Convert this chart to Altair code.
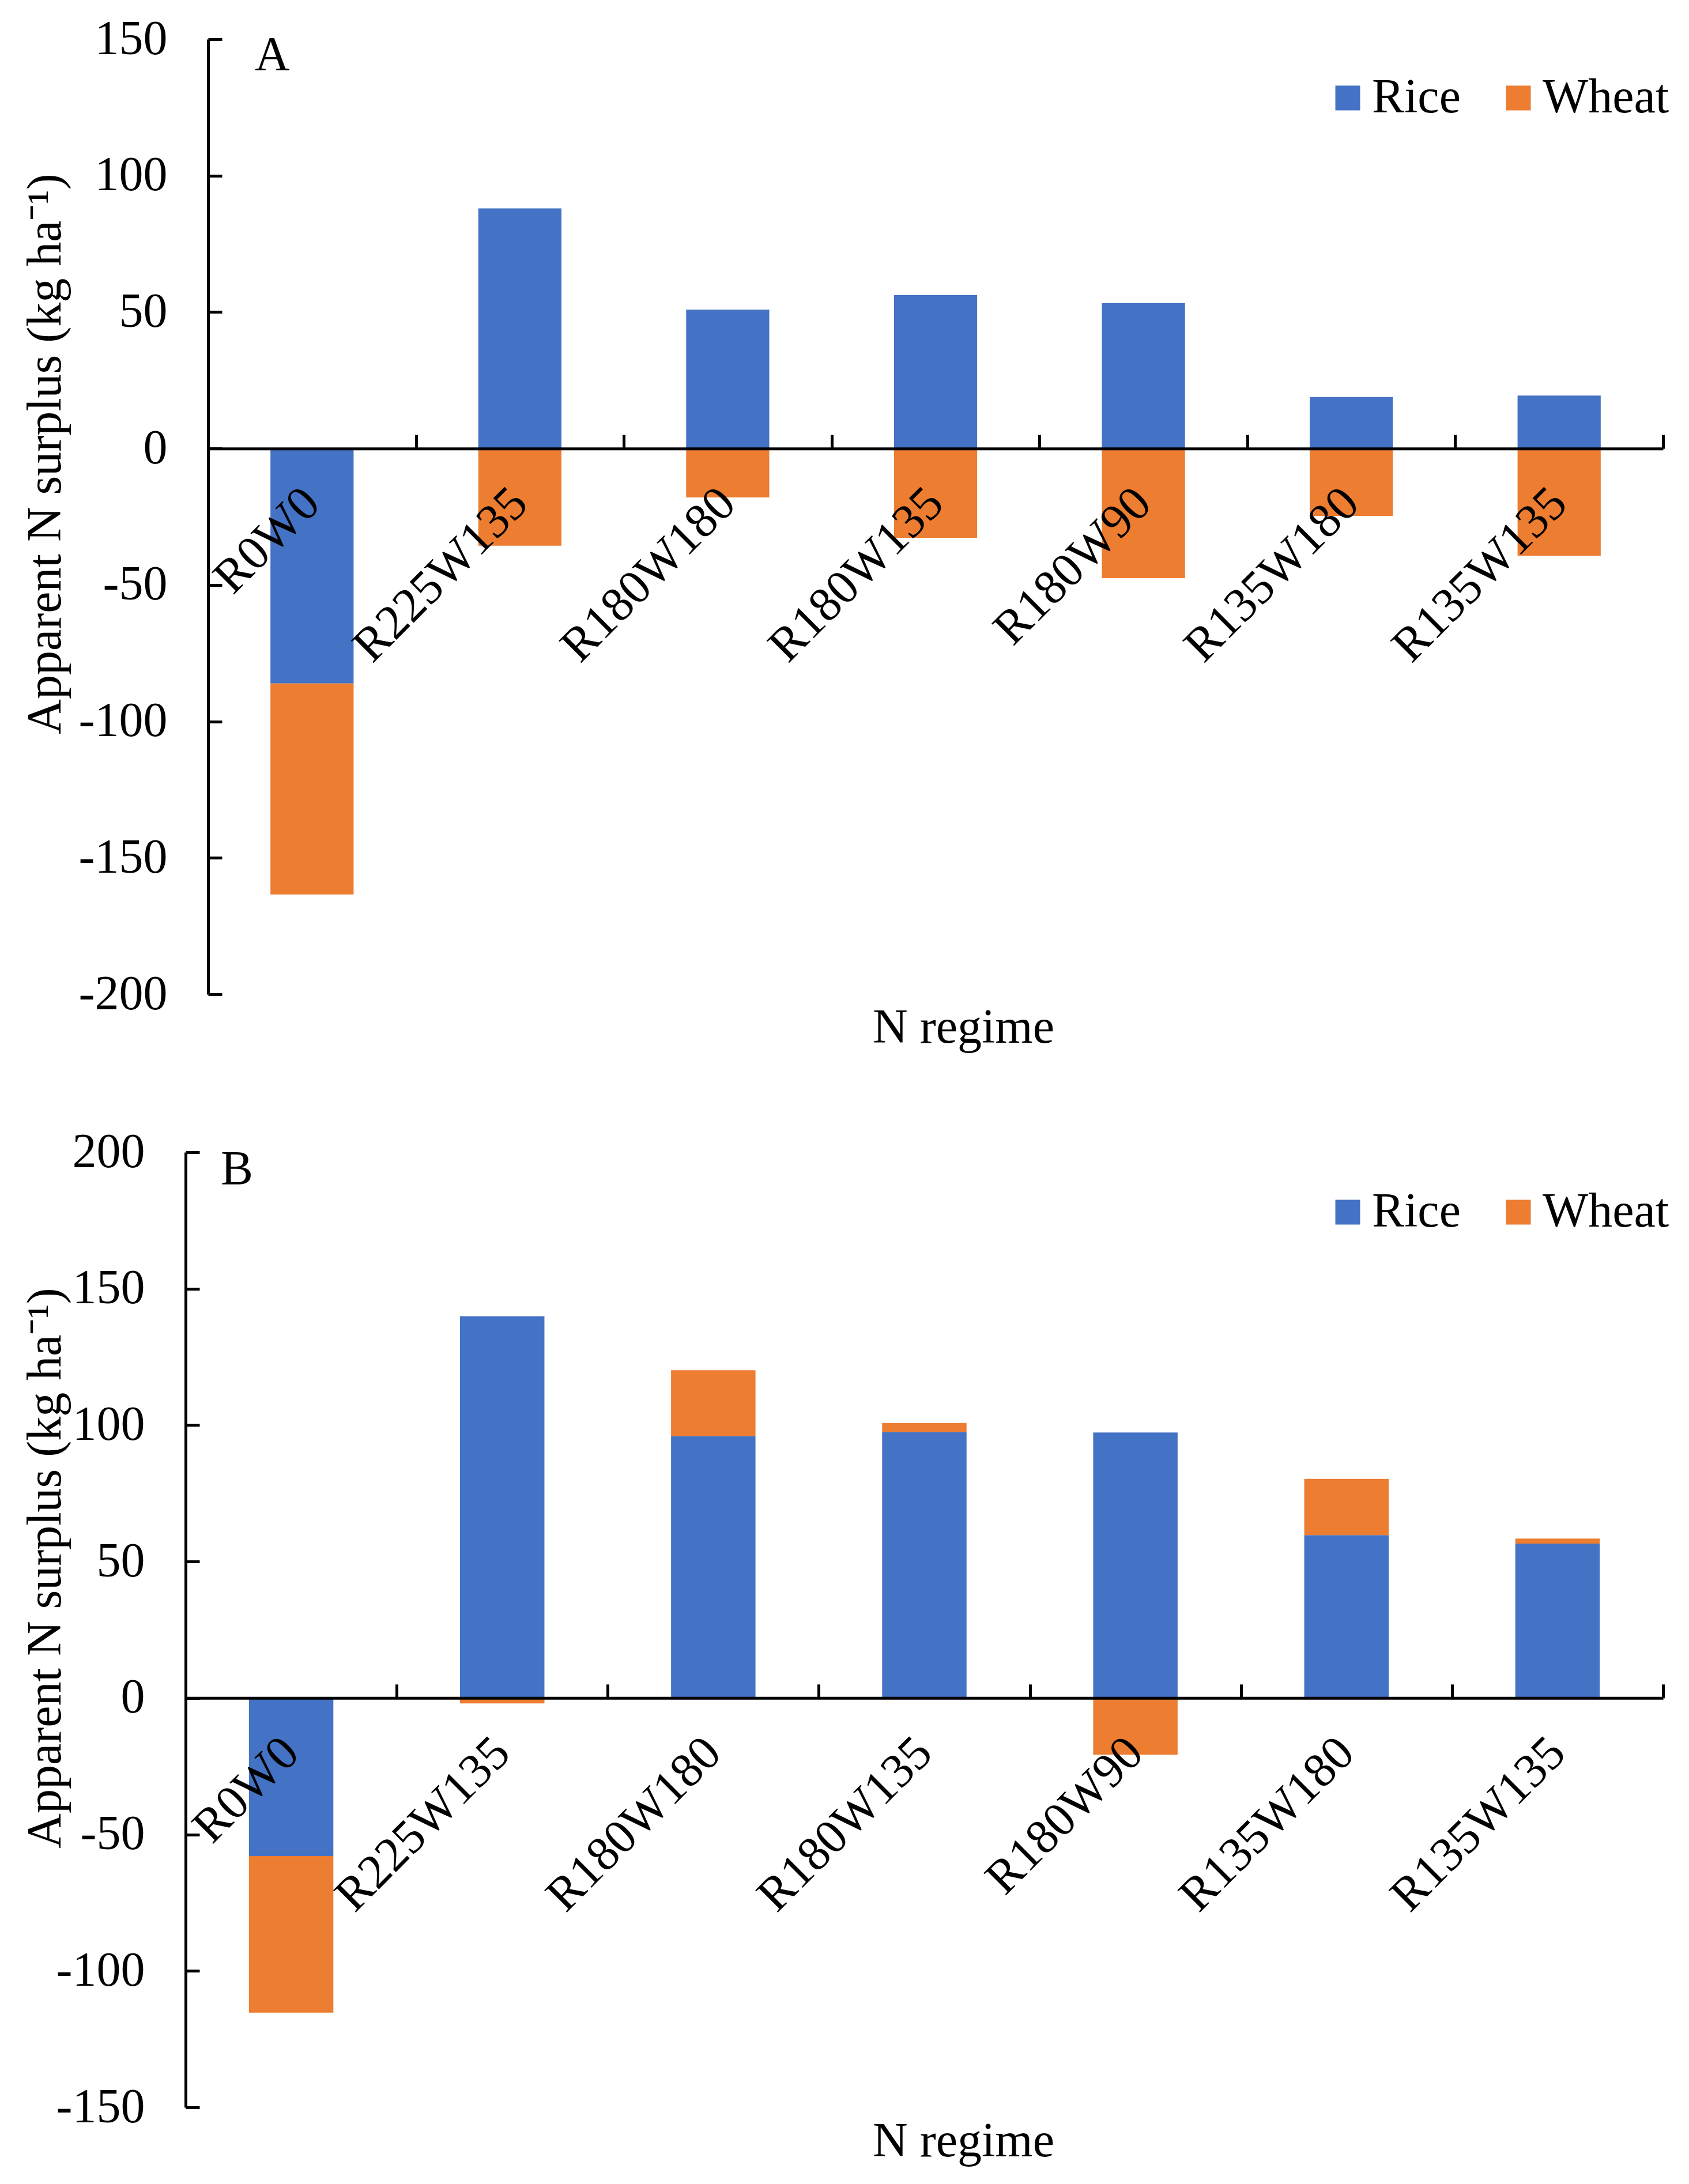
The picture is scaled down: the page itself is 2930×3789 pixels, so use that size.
import altair as alt
import pandas as pd

categories = ["R0W0", "R225W135", "R180W180", "R180W135", "R180W90", "R135W180", "R135W135"]
crops = ["Rice", "Wheat"]
rice_a = [-86.1, 88.0, 50.9, 56.2, 53.3, 18.9, 19.4]
wheat_a = [-77.3, -35.6, -17.9, -32.7, -47.5, -24.7, -39.3]
rice_b = [-57.9, 139.9, 96.0, 97.5, 97.3, 59.7, 56.6]
wheat_b = [-57.4, -2.0, 24.1, 3.3, -20.8, 20.6, 1.8]
ticks_a = [-200, -150, -100, -50, 0, 50, 100, 150]
ticks_b = [-150, -100, -50, 0, 50, 100, 150, 200]
colors = ["#4472C4", "#ED7D31"]
y_title = "Apparent N surplus (kg ha⁻¹)"
x_title = "N regime"

FONT = "Liberation Serif"
FS = 84
H = 1657
W = 2563


def panel(rice, wheat, ticks, x0, letter, letter_x, letter_y,
          ytitle_x, ytitle_y, xtitle_x, xtitle_y, leg_x, leg_y):
    df = pd.DataFrame({
        "regime": categories * 2,
        "crop": ["Rice"] * len(categories) + ["Wheat"] * len(categories),
        "value": rice + wheat,
    })
    ymin, ymax = ticks[0], ticks[-1]
    y0 = H * ymax / (ymax - ymin)
    yscale = alt.Scale(domain=[ymin, ymax], nice=False, zero=False)
    base = alt.Chart(df)

    bars = base.mark_bar().encode(
        x=alt.X("regime:N", sort=categories,
                scale=alt.Scale(paddingInner=0.6, paddingOuter=0.3, range=[x0, W]),
                axis=alt.Axis(orient="bottom", offset=-(H - y0), title=x_title,
                              titleX=xtitle_x, titleY=xtitle_y, titleAlign="center",
                              titleBaseline="alphabetic", titleAngle=0,
                              ticks=False, tickSize=0, labelPadding=82,
                              labelAngle=-45, labelAlign="right", labelBaseline="middle",
                              labelOverlap=False, labelLimit=0, domain=True, zindex=1)),
        y=alt.Y("value:Q", stack="zero", scale=yscale,
                axis=alt.Axis(orient="left", offset=-x0, values=ticks, ticks=False,
                              tickSize=0, labelPadding=71, labelExpr="'' + datum.value",
                              title=y_title, titleX=ytitle_x,
                              titleY=ytitle_y, titleAngle=270, titleAlign="center",
                              titleBaseline="alphabetic", domain=True, zindex=1)),
        color=alt.Color("crop:N", scale=alt.Scale(domain=crops, range=colors),
                        legend=alt.Legend(title=None, orient="none", legendX=leg_x,
                                          legendY=leg_y, direction="horizontal",
                                          symbolType="square", symbolSize=1849,
                                          symbolStrokeWidth=0, symbolOffset=12,
                                          labelFont=FONT, labelFontSize=FS, labelOffset=0,
                                          columnPadding=46, padding=0, gridAlign="none",
                                          labelColor="black", labelLimit=0)),
        order=alt.Order("crop:N", sort="ascending"),
    )

    tick_layer = base.mark_bar(opacity=0).encode(
        x=alt.X("regime:N", sort=categories,
                scale=alt.Scale(paddingInner=0, paddingOuter=0, range=[x0, W]),
                axis=alt.Axis(orient="top", offset=-y0, tickBand="extent",
                              labels=False, domain=False, ticks=True, tickSize=24,
                              tickWidth=5, tickColor="black", title=None, zindex=1)),
        y=alt.Y("value:Q", stack=None, scale=yscale,
                axis=alt.Axis(orient="right", offset=-(W - x0), values=ticks, labels=False,
                              domain=False, ticks=True, tickSize=24, tickWidth=5,
                              tickColor="black", title=None, zindex=1)),
    )

    letter_layer = alt.Chart(pd.DataFrame({"t": [letter]})).mark_text(
        font=FONT, fontSize=FS, align="left", baseline="alphabetic", color="black"
    ).encode(text="t:N", x=alt.value(letter_x), y=alt.value(letter_y))

    return alt.layer(bars, tick_layer, letter_layer).resolve_scale(
        x="independent"
    ).resolve_axis(x="independent", y="independent").properties(width=W, height=H)


pA = panel(rice_a, wheat_a, ticks_a, 39, "A", 120, 54, -257, 719, 1349, 1030, 1962, 60)
pB = panel(rice_b, wheat_b, ticks_b, 0, "B", 61, 56, -218, 721, 1349, 795, 1962, 62)

chart = alt.ConcatChart(
    concat=[pA, pB], columns=1, spacing=131, bounds="full"
).resolve_legend(color="independent").properties(
    padding={"left": 29, "top": 18, "right": 5, "bottom": 5},
    background="white",
).configure_view(stroke=None).configure_axis(
    labelFont=FONT, labelFontSize=FS, titleFont=FONT, titleFontSize=FS,
    titleFontWeight="normal", labelColor="black", titleColor="black",
    domainColor="black", domainWidth=5, grid=False,
)

chart.save("out.html", embed_options={"renderer": "svg", "actions": False})
